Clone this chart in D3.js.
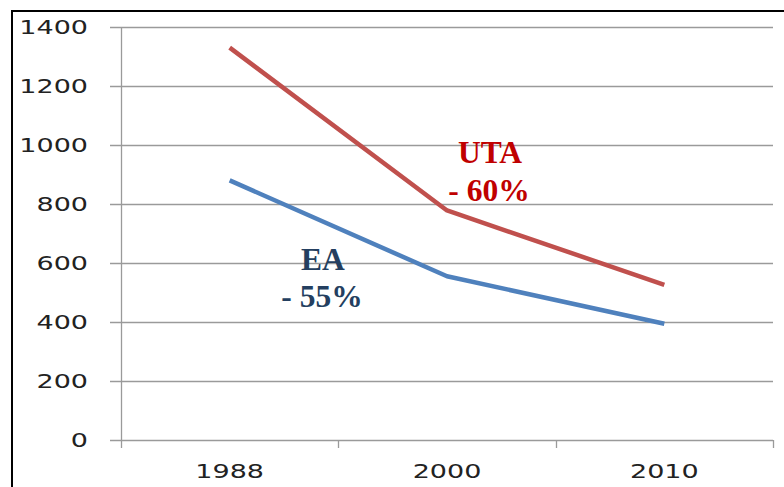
<!DOCTYPE html>
<html>
<head>
<meta charset="utf-8">
<script src="https://cdn.jsdelivr.net/npm/d3@7"></script>
<style>
  body { margin: 0; background: #fff; }
  svg { display: block; }
</style>
</head>
<body>
<div id="chart"></div>
<script>
const years = ["1988", "2000", "2010"];
const utaValues = [1330, 778, 526];
const eaValues = [880, 555, 394];
const yTicks = [0, 200, 400, 600, 800, 1000, 1200, 1400];

const W = 784, H = 487;
const margin = { top: 27, right: 11, bottom: 47, left: 121 };
const width = W - margin.left - margin.right,
  height = H - margin.top - margin.bottom;

const svg = d3
  .select("#chart")
  .append("svg")
  .attr("width", W)
  .attr("height", H);

// outer frame (runs off the right and bottom of the picture)
svg
  .append("rect")
  .attr("x", 12)
  .attr("y", 11)
  .attr("width", 900)
  .attr("height", 600)
  .attr("fill", "none")
  .attr("stroke", "#000")
  .attr("stroke-width", 2);

const g = svg
  .append("g")
  .attr("transform", `translate(${margin.left},${margin.top})`);

const x = d3.scaleBand().domain(years).range([0, width]).padding(0);
const y = d3.scaleLinear().domain([0, 1400]).range([height, 0]);

const labelFont = "'DejaVu Sans', Verdana, sans-serif";

// gridlines + y tick marks
g.selectAll(".grid")
  .data(yTicks)
  .enter()
  .append("line")
  .attr("x1", -11)
  .attr("x2", width)
  .attr("y1", (d) => Math.round(y(d)) + 0.5)
  .attr("y2", (d) => Math.round(y(d)) + 0.5)
  .attr("stroke", "#9a9a9a")
  .attr("stroke-width", 1.3);

// y axis line
g.append("line")
  .attr("x1", 0.5)
  .attr("x2", 0.5)
  .attr("y1", 0)
  .attr("y2", height + 8)
  .attr("stroke", "#9a9a9a")
  .attr("stroke-width", 1.3);

// x category tick marks at band edges
const edges = years.map((d) => x(d) + x.bandwidth());
g.selectAll(".xtick")
  .data(edges)
  .enter()
  .append("line")
  .attr("x1", (d) => Math.round(d) + 0.5)
  .attr("x2", (d) => Math.round(d) + 0.5)
  .attr("y1", height)
  .attr("y2", height + 8)
  .attr("stroke", "#9a9a9a")
  .attr("stroke-width", 1.3);

// y tick labels (stretched wide like the source)
g.selectAll(".ylab")
  .data(yTicks)
  .enter()
  .append("text")
  .attr("transform", (d) => `translate(-33,${y(d) + 7}) scale(1.35,1)`)
  .attr("text-anchor", "end")
  .style("font-family", labelFont)
  .style("font-size", "20px")
  .attr("fill", "#222")
  .text((d) => d);

// x tick labels
g.selectAll(".xlab")
  .data(years)
  .enter()
  .append("text")
  .attr(
    "transform",
    (d) => `translate(${x(d) + x.bandwidth() / 2},${height + 38}) scale(1.35,1)`
  )
  .attr("text-anchor", "middle")
  .style("font-family", labelFont)
  .style("font-size", "20px")
  .attr("fill", "#222")
  .text((d) => d);

// lines
const line = d3
  .line()
  .x((d, i) => x(years[i]) + x.bandwidth() / 2)
  .y((d) => y(d));

g.append("path")
  .datum(eaValues)
  .attr("fill", "none")
  .attr("stroke", "#4F81BD")
  .attr("stroke-width", 4.5)
  .attr("stroke-linejoin", "round")
  .attr("d", line);

g.append("path")
  .datum(utaValues)
  .attr("fill", "none")
  .attr("stroke", "#C0504D")
  .attr("stroke-width", 4.5)
  .attr("stroke-linejoin", "round")
  .attr("d", line);

// annotations
const serif = "'Liberation Serif', 'Times New Roman', serif";
const notes = [
  { text: "UTA", x: 490, y: 163, color: "#C00000" },
  { text: "- 60%", x: 489, y: 201, color: "#C00000" },
  { text: "EA", x: 323, y: 270, color: "#243F60" },
  { text: "- 55%", x: 322, y: 307, color: "#243F60" },
];
svg
  .selectAll(".note")
  .data(notes)
  .enter()
  .append("text")
  .attr("x", (d) => d.x)
  .attr("y", (d) => d.y)
  .attr("text-anchor", "middle")
  .style("font-family", serif)
  .style("font-weight", "bold")
  .style("font-size", "31.5px")
  .attr("fill", (d) => d.color)
  .text((d) => d.text);
</script>
</body>
</html>
